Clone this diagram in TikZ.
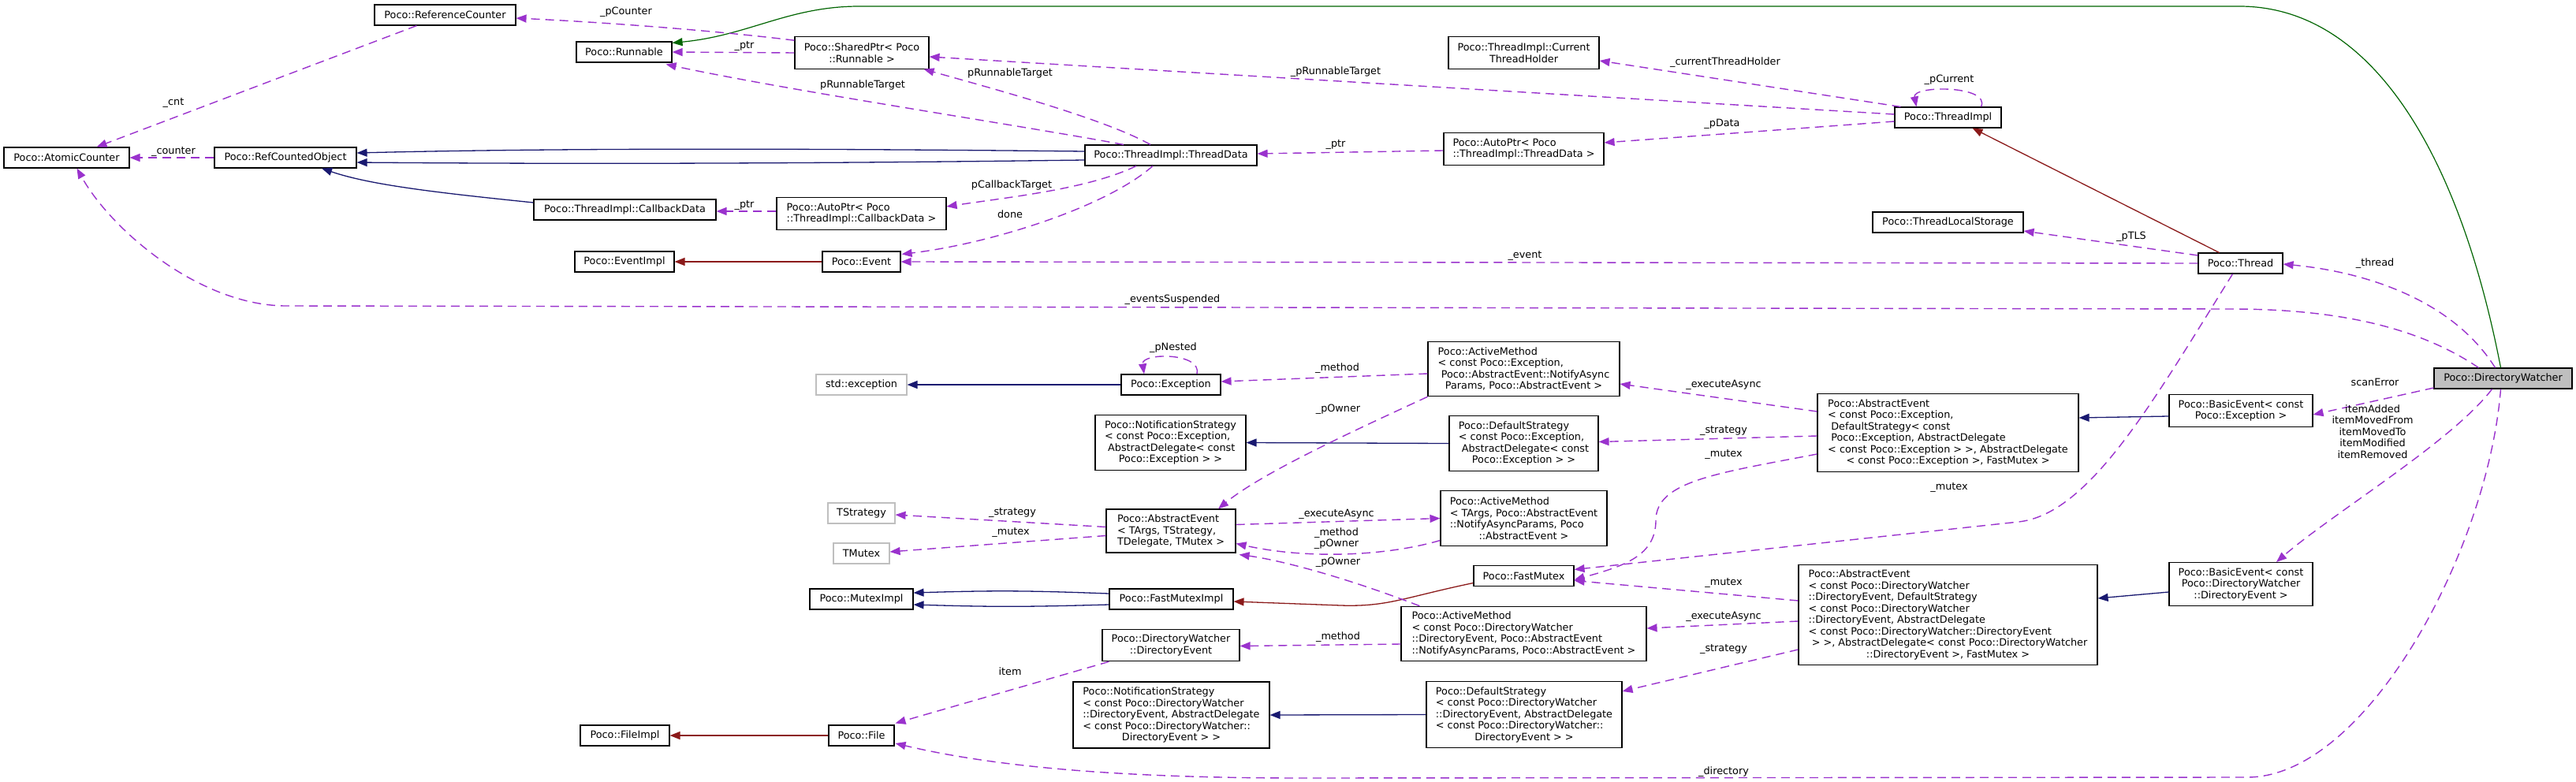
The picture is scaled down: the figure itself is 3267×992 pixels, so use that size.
\documentclass[tikz,border=0pt]{standalone}
\usepackage{fontspec}
\setmainfont{DejaVu Sans}
\usepackage{tikz}
\usetikzlibrary{arrows.meta,calc}
\definecolor{useedge}{HTML}{9A32CD}
\definecolor{pubedge}{HTML}{191970}
\definecolor{protedge}{HTML}{8B1A1A}
\definecolor{privedge}{HTML}{006400}
\definecolor{extbox}{HTML}{BFBFBF}
% last line of a class box is centred, a line may start with a space
\newcommand{\lastln}[1]{\hfill#1\hfill\mbox{}}
\newcommand{\lsp}{\mbox{\ }}

\begin{document}
\begin{tikzpicture}[x=1pt,y=-1pt,
		cls/.style={draw=black,line width=1.1pt,fill=white,rectangle,inner xsep=11pt,inner ysep=3pt,
			align=left,font=\fontsize{12.8}{14.5}\selectfont,minimum height=26pt},
		nrows/.style={minimum height={11.5+14.5*#1}},
		ext/.style={draw=extbox},
		elabel/.style={font=\fontsize{12.8}{14.5}\selectfont,align=center,inner sep=0pt},
		usage/.style={draw=useedge,line width=1.4pt,dash pattern=on 11pt off 7pt,-{Triangle[length=13pt,width=10pt]}},
		pub/.style={draw=pubedge,line width=1.3pt,-{Triangle[length=13pt,width=10pt]}},
		prot/.style={draw=protedge,line width=1.3pt,-{Triangle[length=13pt,width=10pt]}},
		priv/.style={draw=privedge,line width=1.2pt,-{Triangle[length=13pt,width=10pt]}}]
		\useasboundingbox (0,0) rectangle (3267,992);
		% classes
		\node[cls,fill=extbox,minimum width=175] (dw) at (3174.5,480) {Poco::DirectoryWatcher};
		\node[cls,minimum width=107] (thr) at (2841.5,334) {Poco::Thread};
		\node[cls,minimum width=135] (timpl) at (2470.5,149) {Poco::ThreadImpl};
		\node[cls,minimum width=191] (tls) at (2470.5,282) {Poco::ThreadLocalStorage};
		\node[cls,nrows=2,minimum width=191] (cth) at (1932.5,67) {Poco::ThreadImpl::Current\\\lastln{ThreadHolder}};
		\node[cls,nrows=2,minimum width=203] (aptd) at (1932.5,189) {Poco::AutoPtr< Poco\\\lastln{::ThreadImpl::ThreadData >}};
		\node[cls,minimum width=218] (tdata) at (1485,197) {Poco::ThreadImpl::ThreadData};
		\node[cls,nrows=2,minimum width=170] (sptr) at (1093,67) {Poco::SharedPtr< Poco\\\lastln{::Runnable >}};
		\node[cls,minimum width=121] (run) at (791.5,66) {Poco::Runnable};
		\node[cls,minimum width=179] (refc) at (564.5,19) {Poco::ReferenceCounter};
		\node[cls,minimum width=159] (atom) at (84.5,200) {Poco::AtomicCounter};
		\node[cls,minimum width=180] (rco) at (362,200) {Poco::RefCountedObject};
		\node[cls,minimum width=231] (cbd) at (792.5,266) {Poco::ThreadImpl::CallbackData};
		\node[cls,nrows=2,minimum width=215] (apcb) at (1092.5,271) {Poco::AutoPtr< Poco\\\lastln{::ThreadImpl::CallbackData >}};
		\node[cls,minimum width=126] (evimpl) at (792,332) {Poco::EventImpl};
		\node[cls,minimum width=99] (ev) at (1092.5,332) {Poco::Event};
		\node[cls,ext,minimum width=115] (stdex) at (1092.5,488) {std::exception};
		\node[cls,minimum width=126] (exc) at (1485,488) {Poco::Exception};
		\node[cls,nrows=4,minimum width=243] (amexc) at (1932.5,468) {Poco::ActiveMethod\\< const Poco::Exception,\\\lsp Poco::AbstractEvent::NotifyAsync\\\lastln{Params, Poco::AbstractEvent >}};
		\node[cls,nrows=4,minimum width=191] (nsexc) at (1484.5,561.5) {Poco::NotificationStrategy\\< const Poco::Exception,\\\lsp AbstractDelegate< const\\\lastln{Poco::Exception > >}};
		\node[cls,nrows=4,minimum width=189] (dsexc) at (1932.5,562.5) {Poco::DefaultStrategy\\< const Poco::Exception,\\\lsp AbstractDelegate< const\\\lastln{Poco::Exception > >}};
		\node[cls,nrows=6,minimum width=331] (aeexc) at (2470.5,549) {Poco::AbstractEvent\\< const Poco::Exception,\\\lsp DefaultStrategy< const\\\lsp Poco::Exception, AbstractDelegate\\< const Poco::Exception > >, AbstractDelegate\\\lastln{< const Poco::Exception >, FastMutex >}};
		\node[cls,nrows=2,minimum width=182] (beexc) at (2842,521) {Poco::BasicEvent< const\\\lastln{Poco::Exception >}};
		\node[cls,ext,minimum width=85] (tstrat) at (1092.5,651) {TStrategy};
		\node[cls,ext,minimum width=71] (tmutex) at (1092.5,702) {TMutex};
		\node[cls,nrows=3,minimum width=164] (aetargs) at (1485,673.5) {Poco::AbstractEvent\\< TArgs, TStrategy,\\\lastln{TDelegate, TMutex >}};
		\node[cls,nrows=4,minimum width=211] (amtargs) at (1932.5,657.5) {Poco::ActiveMethod\\< TArgs, Poco::AbstractEvent\\::NotifyAsyncParams, Poco\\\lastln{::AbstractEvent >}};
		\node[cls,minimum width=131] (mimpl) at (1092.5,760) {Poco::MutexImpl};
		\node[cls,minimum width=157] (fmimpl) at (1485.5,760) {Poco::FastMutexImpl};
		\node[cls,minimum width=127] (fmutex) at (1932.5,730.5) {Poco::FastMutex};
		\node[cls,nrows=4,minimum width=311] (amde) at (1932.5,804) {Poco::ActiveMethod\\< const Poco::DirectoryWatcher\\::DirectoryEvent, Poco::AbstractEvent\\\lastln{::NotifyAsyncParams, Poco::AbstractEvent >}};
		\node[cls,nrows=2,minimum width=174] (dev) at (1485,818.5) {Poco::DirectoryWatcher\\\lastln{::DirectoryEvent}};
		\node[cls,nrows=5,minimum width=249] (nsde) at (1485.5,907) {Poco::NotificationStrategy\\< const Poco::DirectoryWatcher\\::DirectoryEvent, AbstractDelegate\\< const Poco::DirectoryWatcher::\\\lastln{DirectoryEvent > >}};
		\node[cls,nrows=5,minimum width=248] (dsde) at (1933,906.5) {Poco::DefaultStrategy\\< const Poco::DirectoryWatcher\\::DirectoryEvent, AbstractDelegate\\< const Poco::DirectoryWatcher::\\\lastln{DirectoryEvent > >}};
		\node[cls,nrows=8,minimum width=379] (aede) at (2470.5,780) {Poco::AbstractEvent\\< const Poco::DirectoryWatcher\\::DirectoryEvent, DefaultStrategy\\< const Poco::DirectoryWatcher\\::DirectoryEvent, AbstractDelegate\\< const Poco::DirectoryWatcher::DirectoryEvent\\\lsp > >, AbstractDelegate< const Poco::DirectoryWatcher\\\lastln{::DirectoryEvent >, FastMutex >}};
		\node[cls,nrows=3,minimum width=182] (bede) at (2842,741) {Poco::BasicEvent< const\\\lsp Poco::DirectoryWatcher\\\lastln{::DirectoryEvent >}};
		\node[cls,minimum width=113] (fimpl) at (792.5,933) {Poco::FileImpl};
		\node[cls,minimum width=83] (file) at (1092.5,933) {Poco::File};
		% inheritance
		\draw[priv] ($(dw.north)+(-3,0)$) .. controls (3120,200) and (3010,8) .. (2840,8) -- (1090,8) .. controls (1000,8) and (950,45) .. ($(run.north east)+(0,2)$);
		\draw[pub] ($(tdata.west)+(0,-5)$) .. controls (1000,188) and (700,188) .. ($(rco.east)+(0,-6)$);
		\draw[pub] ($(tdata.west)+(0,6)$) .. controls (1000,208) and (700,208) .. ($(rco.east)+(0,6)$);
		\draw[pub] ($(cbd.west)+(0,-9)$) .. controls (560,245) and (470,235) .. ($(rco.south)+(46,0)$);
		\draw[pub] (exc.west) -- (stdex.east);
		\draw[pub] (dsexc.west) -- (nsexc.east);
		\draw[pub] ($(beexc.west)+(0,7)$) -- ($(aeexc.east)+(0,-19)$);
		\draw[pub] ($(fmimpl.west)+(0,-7)$) .. controls (1300,749) and (1260,749) .. ($(mimpl.east)+(0,-8)$);
		\draw[pub] ($(fmimpl.west)+(0,7)$) .. controls (1300,770) and (1260,770) .. ($(mimpl.east)+(0,7)$);
		\draw[pub] (dsde.west) -- (nsde.east);
		\draw[pub] ($(bede.west)+(0,10)$) -- ($(aede.east)+(0,-21)$);
		\draw[prot] (ev.west) -- (evimpl.east);
		\draw[prot] ($(thr.north)+(-27,0)$) -- ($(timpl.south)+(31,0)$);
		\draw[prot] ($(fmutex.west)+(0,9)$) .. controls (1780,758) and (1760,770) .. (1700,768) -- ($(fmimpl.east)+(0,3)$);
		\draw[prot] (file.west) -- (fimpl.east);
		% members
		\draw[usage] ($(refc.south)+(-36,0)$) -- ($(atom.north)+(38,0)$);
		\draw[usage] (rco.west) -- (atom.east);
		\draw[usage] ($(sptr.north west)+(0,5)$) .. controls (900,38) and (760,28) .. ($(refc.east)+(0,4)$);
		\draw[usage] (sptr.west) -- (run.east);
		\draw[usage] ($(tdata.north)+(-60,0)$) .. controls (1300,160) and (1000,115) .. ($(run.south east)+(-8,2)$);
		\draw[usage] ($(tdata.north)+(-26,0)$) .. controls (1400,150) and (1250,110) .. ($(sptr.south east)+(-7,0)$);
		\draw[usage] ($(timpl.west)+(0,-4)$) -- ($(sptr.east)+(0,5)$);
		\draw[usage] ($(timpl.north west)+(8,0)$) -- ($(cth.east)+(0,10)$);
		\draw[usage] ($(timpl.west)+(0,5)$) -- ($(aptd.east)+(0,-8)$);
		\draw[usage] ($(aptd.west)+(0,2)$) -- ($(tdata.east)+(0,-2)$);
		\draw[usage] ($(timpl.north)+(42,0)$) .. controls (2525,108) and (2425,108) .. ($(timpl.north)+(-40,0)$);
		\draw[usage] ($(tdata.south)+(-44,0)$) .. controls (1380,240) and (1280,250) .. ($(apcb.east)+(0,-9)$);
		\draw[usage] ($(apcb.west)+(0,-3)$) -- ($(cbd.east)+(0,2)$);
		\draw[usage] ($(tdata.south)+(-23,0)$) .. controls (1400,265) and (1250,310) .. ($(ev.north east)+(1,4)$);
		\draw[usage] (thr.west) -- (ev.east);
		\draw[usage] ($(thr.west)+(0,-10)$) -- ($(tls.east)+(0,11)$);
		\draw[usage] ($(dw.north)+(-10,0)$) .. controls (3110,380) and (3000,345) .. ($(thr.east)+(0,1)$);
		\draw[usage] ($(dw.north west)+(57,0)$) .. controls (3060,410) and (2950,392) .. (2830,392) -- (360,388) .. controls (250,386) and (140,290) .. ($(atom.south)+(13,0)$);
		\draw[usage] ($(dw.west)+(0,12)$) -- ($(beexc.east)+(0,5)$);
		\draw[usage] ($(dw.south)+(-14,0)$) .. controls (3110,560) and (2960,650) .. ($(bede.north)+(45,0)$);
		\draw[usage] ($(dw.south)+(-3,0)$) .. controls (3155,700) and (3000,986) .. (2850,986) -- (1650,987) .. controls (1400,987) and (1250,970) .. ($(file.east)+(1,10)$);
		\draw[usage] ($(exc.north)+(33,0)$) .. controls (1525,447) and (1447,447) .. ($(exc.north)+(-34,0)$);
		\draw[usage] ($(amexc.west)+(0,6)$) -- ($(exc.east)+(0,-4)$);
		\draw[usage] (amexc.south west) .. controls (1720,545) and (1600,600) .. ($(aetargs.north)+(60,0)$);
		\draw[usage] ($(aeexc.west)+(0,-27)$) -- ($(amexc.east)+(0,19)$);
		\draw[usage] ($(aeexc.west)+(0,4)$) -- ($(dsexc.east)+(0,-2)$);
		\draw[usage] ($(aeexc.west)+(0,27)$) .. controls (2180,600) and (2100,610) .. (2100,660) .. controls (2100,705) and (2060,718) .. ($(fmutex.east)+(0,5)$);
		\draw[usage] ($(thr.south)+(-10,0)$) .. controls (2730,510) and (2650,652) .. (2560,662) -- ($(fmutex.east)+(0,-8)$);
		\draw[usage] ($(aetargs.west)+(0,-5)$) -- ($(tstrat.east)+(0,2)$);
		\draw[usage] ($(aetargs.west)+(0,6)$) -- ($(tmutex.east)+(0,-2)$);
		\draw[usage] ($(aetargs.east)+(0,-8)$) -- (amtargs.west);
		\draw[usage] ($(amtargs.west)+(0,28)$) .. controls (1760,705) and (1660,710) .. ($(aetargs.east)+(0,16)$);
		\draw[usage] ($(amde.north west)+(24,0)$) .. controls (1700,730) and (1620,710) .. ($(aetargs.south east)+(4,2)$);
		\draw[usage] ($(amde.west)+(0,13)$) -- ($(dev.east)+(0,1)$);
		\draw[usage] ($(aede.west)+(0,8)$) -- ($(amde.east)+(0,-7)$);
		\draw[usage] ($(aede.west)+(0,44)$) -- ($(dsde.north east)+(0,13)$);
		\draw[usage] ($(aede.west)+(0,-18)$) -- ($(fmutex.east)+(0,6)$);
		\draw[usage] ($(dev.south west)+(9,0)$) -- ($(file.north east)+(1,-2)$);
		% member names
		\node[elabel] (lcnt) at (220,131) {\_cnt};
		\node[elabel] (lcounter) at (220,193) {\_counter};
		\node[elabel] (lpcounter) at (794,15) {\_pCounter};
		\node[elabel] (lptra) at (944,59) {\_ptr};
		\node[elabel] (lprta) at (1094,108) {pRunnableTarget};
		\node[elabel] (lprtb) at (1281,93) {pRunnableTarget};
		\node[elabel] (lprtc) at (1694,91) {\_pRunnableTarget};
		\node[elabel] (lcth) at (2188,79) {\_currentThreadHolder};
		\node[elabel] (lpdata) at (2184,157) {\_pData};
		\node[elabel] (lptrb) at (1694,184) {\_ptr};
		\node[elabel] (lpcur) at (2472,101) {\_pCurrent};
		\node[elabel] (lpcb) at (1283,235) {pCallbackTarget};
		\node[elabel] (lptrc) at (944,261) {\_ptr};
		\node[elabel] (ldone) at (1281,272) {done};
		\node[elabel] (levent) at (1934,325) {\_event};
		\node[elabel] (lptls) at (2703,300) {\_pTLS};
		\node[elabel] (lthread) at (3012,334) {\_thread};
		\node[elabel] (lsusp) at (1487,380) {\_eventsSuspended};
		\node[elabel] (lscan) at (3012,485) {scanError};
		\node[elabel] (litems) at (3009,547.5) {itemAdded\\itemMovedFrom\\itemMovedTo\\itemModified\\itemRemoved};
		\node[elabel] (lmutexa) at (2472,619) {\_mutex};
		\node[elabel] (lnested) at (1488,441) {\_pNested};
		\node[elabel] (lmetha) at (1696,467) {\_method};
		\node[elabel] (lownera) at (1697,519) {\_pOwner};
		\node[elabel] (lexeca) at (2186,488) {\_executeAsync};
		\node[elabel] (lstrata) at (2186,547) {\_strategy};
		\node[elabel] (lmutexb) at (2186,577) {\_mutex};
		\node[elabel] (lexecb) at (1695,652) {\_executeAsync};
		\node[elabel] (lstratb) at (1284,651) {\_strategy};
		\node[elabel] (lmutexc) at (1282,676) {\_mutex};
		\node[elabel] (lmethb) at (1695,683) {\_method\\\_pOwner};
		\node[elabel] (lownerb) at (1697,713) {\_pOwner};
		\node[elabel] (lmutexd) at (2186,740) {\_mutex};
		\node[elabel] (lexecc) at (2186,782) {\_executeAsync};
		\node[elabel] (lmethc) at (1697,808) {\_method};
		\node[elabel] (lstratc) at (2186,824) {\_strategy};
		\node[elabel] (litem) at (1281,852) {item};
		\node[elabel] (ldir) at (2186,979) {\_directory};
	\end{tikzpicture}
\end{document}
